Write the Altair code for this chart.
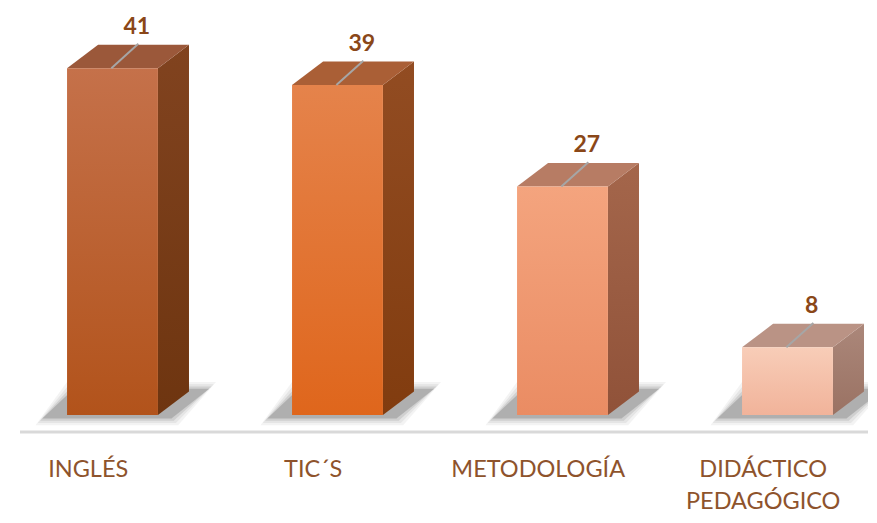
import altair as alt
import pandas as pd

categories = ["INGLÉS", "TIC´S", "METODOLOGÍA", "DIDÁCTICO\nPEDAGÓGICO"]
values = [41, 39, 27, 8]

front_top = ["#C5714A", "#E5834B", "#F4A47E", "#F8CDB8"]
front_bottom = ["#B2531B", "#DF661C", "#EA8C63", "#F1B39A"]
side_top = ["#81431F", "#924C22", "#A4664B", "#AB877A"]
side_bottom = ["#6E3510", "#813C0F", "#905239", "#9A7263"]
top_color = ["#9B583A", "#AA5F36", "#B77C64", "#BA9385"]

text_color = "#8A4718"
cat_color = "#8E532C"
axis_color = "#D9D9D9"
leader_color = "#A6A6A6"

# geometry (in data units)
HW = 0.202   # half width of front face
DX = 0.138   # depth offset in x
DZ = 2.78    # depth offset in value units

W = 860
H = 507
X0 = -0.4644
X1 = X0 + W / 225
Y1 = 48.11
Y0 = Y1 - H / 8.46

xs = alt.Scale(domain=[X0, X1], nice=False, zero=False)
ys = alt.Scale(domain=[Y0, Y1], nice=False, zero=False)


def X(f="x"):
    return alt.X(f"{f}:Q", scale=xs, axis=None)


def Y(f="y"):
    return alt.Y(f"{f}:Q", scale=ys, axis=None)


def grad(c1, c2):
    return {"gradient": "linear", "x1": 0, "y1": 0, "x2": 0, "y2": 1,
            "stops": [{"offset": 0, "color": c1}, {"offset": 1, "color": c2}]}


layers = []

# axis line
axis_df = pd.DataFrame({"x": [X0 + 12 / 225], "x2": [X1], "y": [-2.0]})
layers.append(alt.Chart(axis_df).mark_rule(color=axis_color, strokeWidth=3).encode(
    x=X(), x2="x2:Q", y=Y()))

# soft shadows
for i, v in enumerate(values):
    for grow, op in [(0.03, 0.06), (0.02, 0.08), (0.01, 0.12), (0.0, 0.22)]:
        gy = grow * 225 / 8.46
        sdf = pd.DataFrame({
            "y": [-0.4 - gy, 3.1 + gy],
            "x": [i - HW - 0.11 - grow, i - HW + 0.03 - grow],
            "x2": [i + HW + 0.06 + grow, i + HW + DX + 0.09 + grow],
        })
        layers.append(alt.Chart(sdf).mark_area(orient="horizontal", color="#3A3A3A", opacity=op).encode(
            y=Y(), x=X(), x2="x2:Q"))

for i, v in enumerate(values):
    # side face
    side = pd.DataFrame({"x": [i + HW, i + HW + DX], "y": [v, v + DZ], "y2": [0, DZ]})
    layers.append(alt.Chart(side).mark_area(color=grad(side_top[i], side_bottom[i])).encode(
        x=X(), y=Y(), y2="y2:Q"))
    # top face
    top = pd.DataFrame({"y": [v, v + DZ], "x": [i - HW, i - HW + DX], "x2": [i + HW, i + HW + DX]})
    layers.append(alt.Chart(top).mark_area(orient="horizontal", color=top_color[i]).encode(
        y=Y(), x=X(), x2="x2:Q"))
    # front face
    front = pd.DataFrame({"x": [i - HW], "x2": [i + HW], "y": [0], "y2": [v]})
    layers.append(alt.Chart(front).mark_rect(color=grad(front_top[i], front_bottom[i])).encode(
        x=X(), x2="x2:Q", y=Y(), y2="y2:Q"))
    # leader line
    lead = pd.DataFrame({"x": [i - 0.005], "x2": [i + 0.115], "y": [v], "y2": [v + DZ + 0.1]})
    layers.append(alt.Chart(lead).mark_rule(color=leader_color, strokeWidth=2).encode(
        x=X(), x2="x2:Q", y=Y(), y2="y2:Q"))

# value labels
lab = pd.DataFrame({"x": [i + 0.108 for i in range(len(values))],
                    "y": [v + DZ for v in values],
                    "t": [str(v) for v in values]})
layers.append(alt.Chart(lab).mark_text(font="Lato", fontSize=23, fontWeight="bold", color=text_color,
                                        baseline="alphabetic", dy=-11).encode(
    x=X(), y=Y(), text="t:N"))

# category labels
cat = pd.DataFrame({"x": [i - 0.108 for i in range(len(categories))],
                    "y": [-7.35] * len(categories),
                    "t": categories})
layers.append(alt.Chart(cat).mark_text(font="Lato", fontSize=23.5, color=cat_color, baseline="alphabetic",
                                        lineBreak="\n", lineHeight=32).encode(
    x=X(), y=Y(), text="t:N"))

chart = alt.layer(*layers).properties(width=W, height=H, autosize="none", padding=0).configure_view(stroke=None)

chart.save("out.html", embed_options={"renderer": "svg", "actions": False})
